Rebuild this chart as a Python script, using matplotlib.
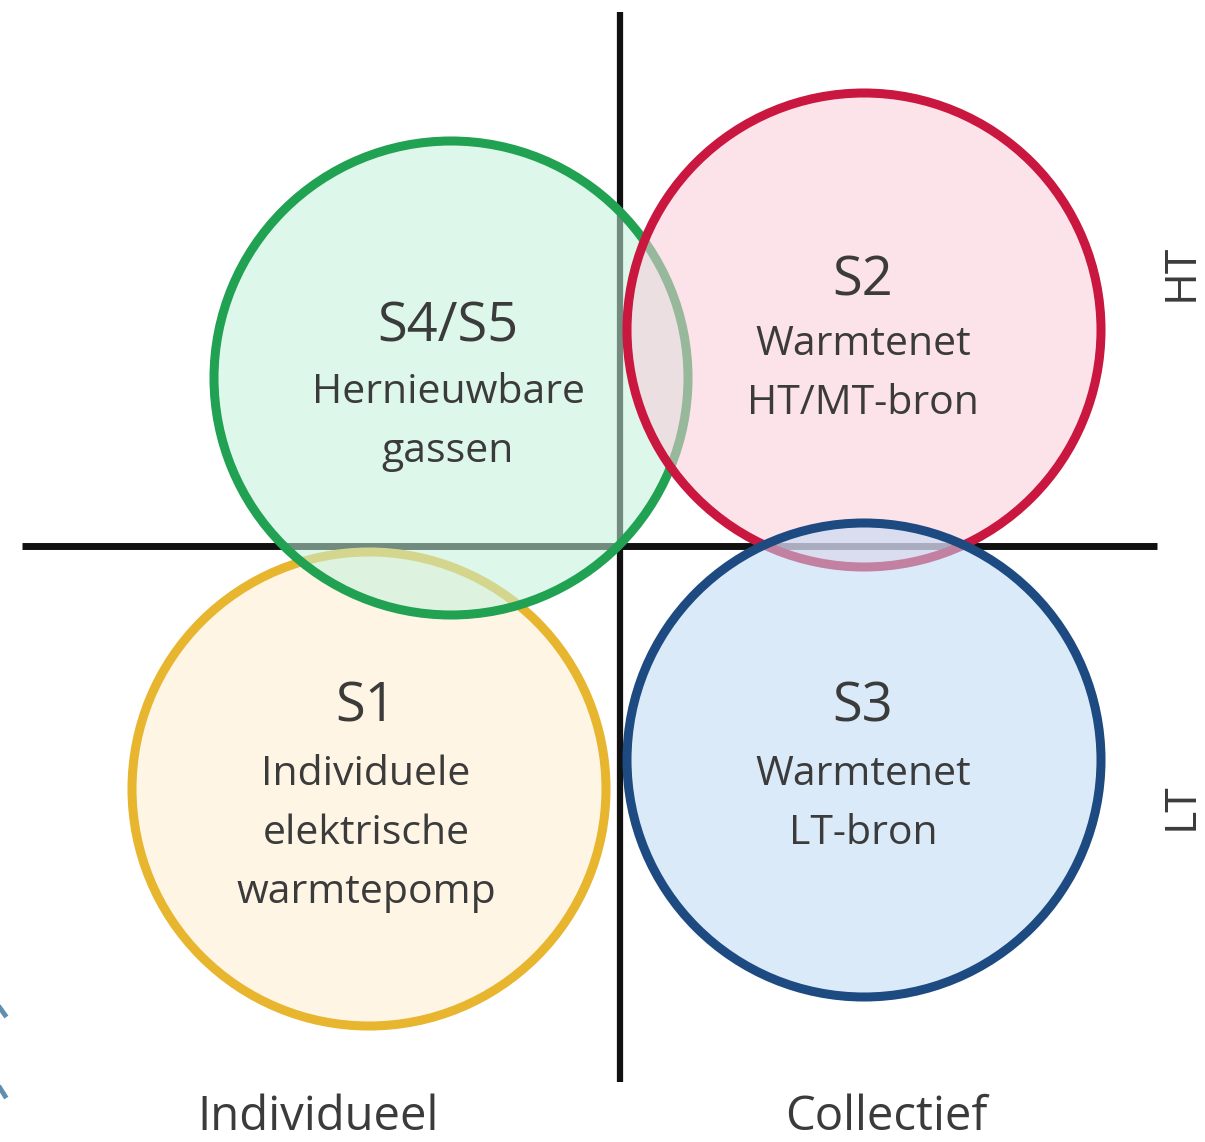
import matplotlib
matplotlib.use("Agg")
import matplotlib.pyplot as plt
from matplotlib.patches import Circle

# ---- data ----
titles = ["S1", "S4/S5", "S2", "S3"]
subtitles = [
    ["Individuele", "elektrische", "warmtepomp"],
    ["Hernieuwbare", "gassen"],
    ["Warmtenet", "HT/MT-bron"],
    ["Warmtenet", "LT-bron"],
]
edge_colors = ["#E8B52E", "#21A152", "#C9173F", "#1E4A82"]
fill_colors = [(1.0, 0.93, 0.80, 0.50), (0.76, 0.95, 0.86, 0.55),
               (0.98, 0.80, 0.85, 0.55), (0.75, 0.85, 0.96, 0.55)]
x_labels = ["Individueel", "Collectief"]
y_labels = ["HT", "LT"]

# ---- layout (pixel coordinates) ----
centers = [(369, 789), (451, 378), (864, 330), (864, 760)]
radius = 237
text_x = [366, 448, 863, 863]
title_base = [722, 342, 295, 722]
sub_first_base = [785, 403, 355, 785]
sub_step = 59

FONT = "Open Sans"
TXT = "#3b3b3b"

fig = plt.figure(figsize=(12.05, 11.42), dpi=100)
ax = fig.add_axes([0, 0, 1, 1])
ax.set_xlim(0, 1205)
ax.set_ylim(1142, 0)
ax.set_aspect("equal")
ax.axis("off")

# axes cross
ax.plot([620, 620], [12, 1082], color="#111111", lw=4.5, solid_capstyle="butt", zorder=1)
ax.plot([22, 1157], [546, 546], color="#111111", lw=5, solid_capstyle="butt", zorder=1)

# small cropped arrow fragments at the left edge
ax.plot([0, 5], [1008, 1015], color="#1f5f8a", lw=3.5, alpha=0.7, zorder=1)
ax.plot([0, 5], [1088, 1096], color="#1f5f8a", lw=3.5, alpha=0.7, zorder=1)

# circles: drawing order yellow, green, red, blue
for i, (c, ec, fc) in enumerate(zip(centers, edge_colors, fill_colors)):
    ax.add_patch(Circle(c, radius, facecolor=fc, edgecolor=ec, lw=6.5, zorder=2 + i))

for i, (t, subs) in enumerate(zip(titles, subtitles)):
    ax.text(text_x[i], title_base[i], t, ha="center", va="baseline", fontsize=39,
            family=FONT, color=TXT, zorder=10)
    for j, s in enumerate(subs):
        ax.text(text_x[i], sub_first_base[i] + j * sub_step, s, ha="center", va="baseline",
                fontsize=29.5, family=FONT, color=TXT, zorder=10)

ax.text(318, 1141, x_labels[0], ha="center", va="bottom", fontsize=34, family=FONT, color=TXT)
ax.text(886, 1141, x_labels[1], ha="center", va="bottom", fontsize=34, family=FONT, color=TXT)
ax.text(1181, 272, y_labels[0], ha="center", va="center", rotation=90, fontsize=32,
        family=FONT, color=TXT)
ax.text(1181, 806, y_labels[1], ha="center", va="center", rotation=90, fontsize=32,
        family=FONT, color=TXT)

fig.savefig("out.png", dpi=100, facecolor="white")
